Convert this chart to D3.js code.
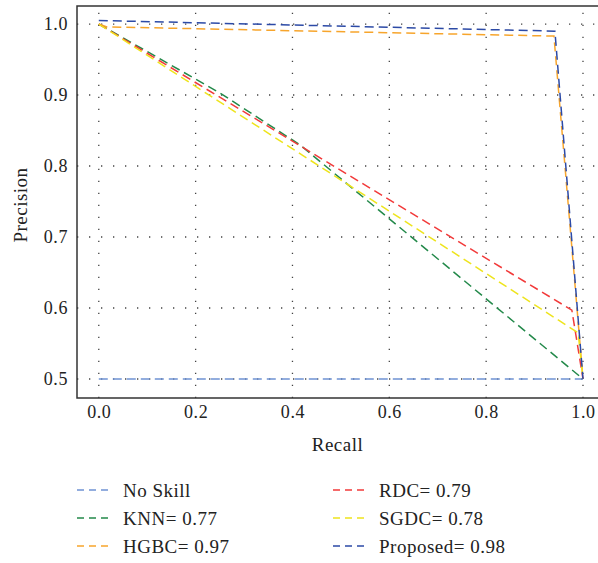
<!DOCTYPE html>
<html>
<head>
<meta charset="utf-8">
<script src="https://cdn.jsdelivr.net/npm/d3@7"></script>
<style>
  html, body { margin: 0; padding: 0; background: #fff; }
  svg { display: block; font-family: "Liberation Serif", "Times New Roman", serif; }
</style>
</head>
<body>
<svg id="chart" width="598" height="563"></svg>
<script>
// Precision-recall curves for each classifier
const noSkillRecall = [0, 1];
const noSkillPrecision = [0.5, 0.5];

const knnRecall = [0, 0.25, 0.415, 1.0];
const knnPrecision = [1.0, 0.903, 0.83, 0.5];

const hgbcRecall = [0, 0.017, 0.94, 1.0];
const hgbcPrecision = [1.0, 0.996, 0.983, 0.5];

const rdcRecall = [0, 0.977, 1.0];
const rdcPrecision = [1.0, 0.597, 0.5];

const sgdcRecall = [0, 0.99, 1.0];
const sgdcPrecision = [1.0, 0.565, 0.5];

const proposedRecall = [0, 0.942, 1.0];
const proposedPrecision = [1.005, 0.99, 0.5];

const xTicks = [0, 0.2, 0.4, 0.6, 0.8, 1.0];
const yTicks = [0.5, 0.6, 0.7, 0.8, 0.9, 1.0];

const seriesNames = ["No Skill", "KNN= 0.77", "HGBC= 0.97", "RDC= 0.79", "SGDC= 0.78", "Proposed= 0.98"];
const seriesColors = ["#6f93d3", "#23894a", "#f7a52c", "#f23a3a", "#eee41c", "#2c4aa6"];

const series = [
  [noSkillRecall, noSkillPrecision],
  [knnRecall, knnPrecision],
  [hgbcRecall, hgbcPrecision],
  [rdcRecall, rdcPrecision],
  [sgdcRecall, sgdcPrecision],
  [proposedRecall, proposedPrecision]
].map(([r, p], i) => ({
  name: seriesNames[i],
  color: seriesColors[i],
  points: r.map((v, j) => [v, p[j]])
}));

const svg = d3.select("#chart");
const plotLeft = 77, plotRight = 598, plotTop = 6, plotBottom = 398;

const x = d3.scaleLinear().domain([-0.045, 1.031]).range([plotLeft, plotRight]);
const y = d3.scaleLinear().domain([0.4732, 1.0254]).range([plotBottom, plotTop]);

// dotted grid
const grid = svg.append("g").attr("stroke", "#444").attr("stroke-width", 1.3)
  .attr("stroke-dasharray", "1.3,10.7");
grid.selectAll("line.v").data(xTicks).join("line").attr("class", "v")
  .attr("x1", d => x(d)).attr("x2", d => x(d))
  .attr("y1", plotBottom).attr("y2", plotTop);
grid.selectAll("line.h").data(yTicks).join("line").attr("class", "h")
  .attr("x1", plotLeft).attr("x2", plotRight)
  .attr("y1", d => y(d)).attr("y2", d => y(d));

// curves
const line = d3.line().x(d => x(d[0])).y(d => y(d[1]));
svg.append("g").selectAll("path").data(series).join("path")
  .attr("d", d => line(d.points))
  .attr("fill", "none")
  .attr("stroke", d => d.color)
  .attr("stroke-width", 1.5)
  .attr("stroke-dasharray", "9,5");

// frame
svg.append("path")
  .attr("d", `M${plotRight},${plotTop}H${plotLeft}V${plotBottom}H${plotRight}`)
  .attr("fill", "none").attr("stroke", "#333").attr("stroke-width", 1.5);

// axes (labels only)
const xAxis = svg.append("g").attr("transform", `translate(0,${plotBottom})`)
  .call(d3.axisBottom(x).tickValues(xTicks).tickFormat(d3.format(".1f")).tickSize(0).tickPadding(7));
const yAxis = svg.append("g").attr("transform", `translate(${plotLeft},0)`)
  .call(d3.axisLeft(y).tickValues(yTicks).tickFormat(d3.format(".1f")).tickSize(0).tickPadding(9));
[xAxis, yAxis].forEach(a => {
  a.select(".domain").remove();
  a.selectAll("text").attr("font-family", "Liberation Serif, serif")
    .attr("font-size", 18).attr("fill", "#222").style("letter-spacing", "0.6px");
});

svg.append("text").attr("x", (plotLeft + plotRight) / 2).attr("y", 451)
  .attr("text-anchor", "middle").attr("font-size", 19).attr("fill", "#222")
  .style("letter-spacing", "0.5px").text("Recall");
svg.append("text").attr("transform", "translate(27,205) rotate(-90)")
  .attr("text-anchor", "middle").attr("font-size", 19).attr("fill", "#222")
  .style("letter-spacing", "0.5px").text("Precision");

// legend
const legendOrder = [0, 3, 1, 4, 2, 5];
const legend = svg.append("g").selectAll("g").data(legendOrder.map(i => series[i])).join("g")
  .attr("transform", (d, i) => `translate(${i % 2 === 0 ? 77 : 333},${490 + Math.floor(i / 2) * 28})`);
legend.append("line").attr("x1", 0).attr("x2", 33).attr("y1", 0).attr("y2", 0)
  .attr("stroke", d => d.color).attr("stroke-width", 1.5).attr("stroke-dasharray", "7,5");
legend.append("text").attr("x", 46).attr("y", 6.5)
  .attr("font-size", 19).attr("fill", "#222").style("letter-spacing", "0.5px")
  .text(d => d.name);
</script>
</body>
</html>
